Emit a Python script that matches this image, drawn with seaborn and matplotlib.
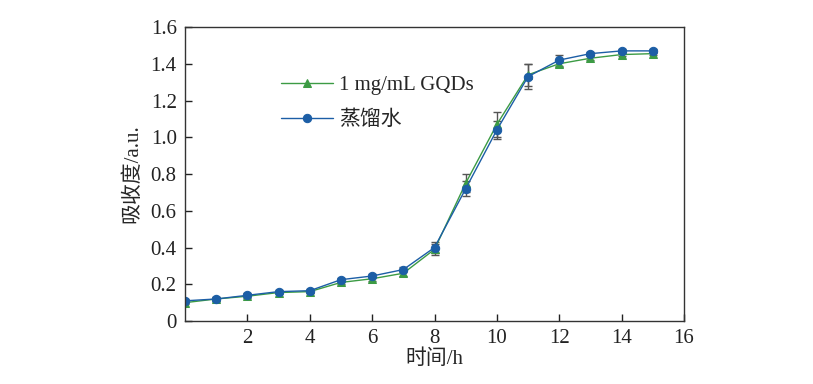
import numpy as np
import pandas as pd
import matplotlib
matplotlib.use('Agg')
import matplotlib.pyplot as plt
import seaborn as sns

# 数据
hours = [0, 1, 2, 3, 4, 5, 6, 7, 8, 9, 10, 11, 12, 13, 14, 15]
gqds = [0.10, 0.12, 0.135, 0.155, 0.16, 0.21, 0.23, 0.26, 0.39, 0.75, 1.07, 1.34, 1.40, 1.43, 1.45, 1.455]
water = [0.11, 0.12, 0.14, 0.16, 0.165, 0.225, 0.245, 0.28, 0.40, 0.72, 1.04, 1.33, 1.42, 1.455, 1.47, 1.47]
gqds_err = [0.01, 0.01, 0.01, 0.01, 0.01, 0.01, 0.01, 0.015, 0.03, 0.05, 0.07, 0.06, 0.02, 0.01, 0.01, 0.01]
water_err = [0.01, 0.01, 0.01, 0.01, 0.01, 0.01, 0.01, 0.015, 0.03, 0.04, 0.05, 0.07, 0.03, 0.01, 0.01, 0.01]
labels = ['1 mg/mL GQDs', '蒸馏水']

sns.set_style('ticks')
plt.rcParams['font.family'] = ['Liberation Serif', 'Noto Sans CJK SC']
plt.rcParams['xtick.direction'] = 'in'
plt.rcParams['ytick.direction'] = 'in'

df = pd.DataFrame({
    'h': hours * 2,
    'v': gqds + water,
    'err': gqds_err + water_err,
    'g': [labels[0]] * len(hours) + [labels[1]] * len(hours),
})

fig = plt.figure(figsize=(8.13, 3.84), dpi=100)
ax = fig.add_axes([0.2276, 0.164, 0.6137, 0.7657])

colors = ['#3c9b44', '#1c5ea6']
markers = ['^', 'o']
for lab, c, m in zip(labels, colors, markers):
    d = df[df['g'] == lab]
    ax.errorbar(d['h'], d['v'], yerr=d['err'], fmt='none', ecolor='#555555',
                elinewidth=1, capsize=3, capthick=1, zorder=1)
    sns.lineplot(x='h', y='v', data=d, ax=ax, color=c, marker=m, markersize=6,
                 markeredgecolor=c, linewidth=1, label=lab, zorder=2)

ax.set_xlim(0, 16)
ax.set_ylim(0, 1.6)
ax.set_xticks(np.arange(2, 17, 2))
ax.set_yticks(np.arange(0, 1.61, 0.2))
ax.set_yticklabels(['0', '0.2', '0.4', '0.6', '0.8', '1.0', '1.2', '1.4', '1.6'])
ax.tick_params(labelsize=15, length=5, width=1, colors='#222222', pad=6)
for s in ax.spines.values():
    s.set_linewidth(1)
    s.set_color('#333333')
ax.set_xlabel('时间/h', fontsize=15, labelpad=1)
ax.set_ylabel('吸收度/a.u.', fontsize=15, labelpad=6)

leg = ax.legend(loc='upper left', bbox_to_anchor=(0.175, 0.862), frameon=False,
                fontsize=15, handlelength=2.5, handletextpad=0.3,
                labelspacing=0.72, borderaxespad=0)

plt.savefig('out.png', dpi=100)
